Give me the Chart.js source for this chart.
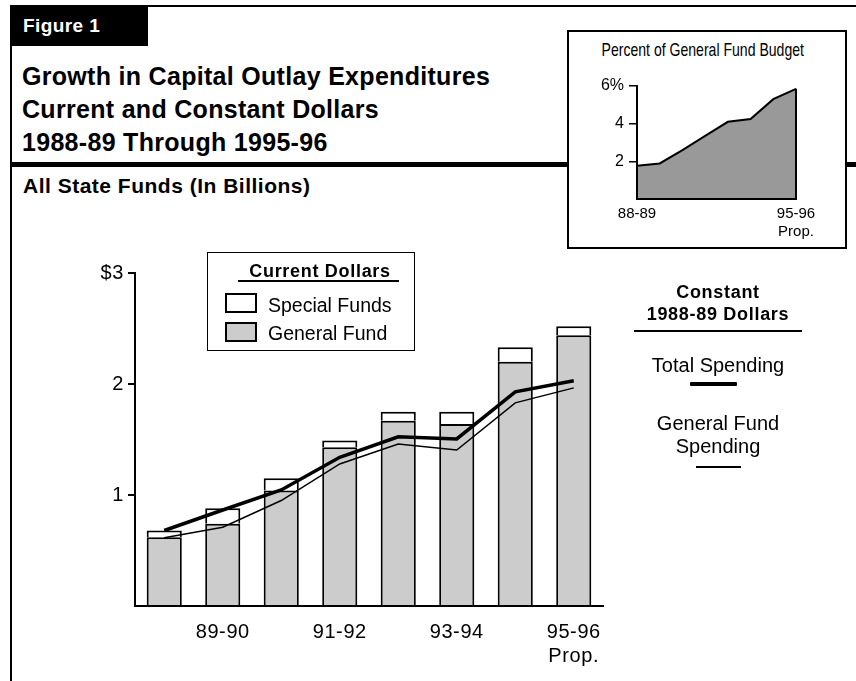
<!DOCTYPE html>
<html>
<head>
<meta charset="utf-8">
<title>Growth in Capital Outlay Expenditures</title>
<script src="https://cdn.jsdelivr.net/npm/chart.js@4.4.0/dist/chart.umd.min.js"></script>
<style>
  body { margin: 0; background: #fff; color: #000; font-family: "Liberation Sans", Arial, sans-serif; }
  #page { position: relative; width: 856px; height: 681px; overflow: hidden; background: #fff; }
  .abs { position: absolute; }
  .rule { position: absolute; background: #000; }
  #figTag { left: 10px; top: 6px; width: 138px; height: 40px; background: #000; color: #fff;
            font-weight: bold; font-size: 19px; line-height: 40px; padding-left: 13px; box-sizing: border-box; letter-spacing: 0.4px; }
  #title { left: 22px; top: 60px; font-weight: bold; font-size: 25px; line-height: 33px; letter-spacing: 0.3px; white-space: nowrap; }
  #subtitle { left: 23px; top: 172px; font-weight: bold; font-size: 21px; line-height: 28px; letter-spacing: 0.5px; white-space: nowrap; }
  #insetBox { left: 567px; top: 30px; width: 276px; height: 215px; border: 2px solid #000; background: #fff; }
  #insetTitle { left: 568px; top: 38px; width: 258px; text-align: center; font-size: 19px; line-height: 24px;
                transform: scaleX(0.74); transform-origin: 129px 0; white-space: nowrap; }
  #legendBox { left: 207px; top: 252px; width: 206px; height: 97px; border: 1.5px solid #000; background: #fff; }
  .legHead { font-weight: bold; font-size: 18px; letter-spacing: 0.7px; text-align: center; white-space: nowrap; }
  .legItem { font-size: 19.5px; line-height: 24px; white-space: nowrap; }
  .swatch { position: absolute; width: 28px; height: 16px; border: 2px solid #000; }
  .constText { font-size: 20px; line-height: 23px; text-align: center; white-space: nowrap; width: 200px; }
  canvas { position: absolute; }
</style>
</head>
<body>
<div id="page">
  <div class="rule" style="left:10px; top:5px; width:846px; height:2px;"></div>
  <div class="rule" style="left:10px; top:6px; width:2px; height:675px;"></div>
  <div class="rule" style="left:10px; top:162px; width:846px; height:5px;"></div>
  <div id="figTag" class="abs">Figure 1</div>
  <div id="title" class="abs">Growth in Capital Outlay Expenditures<br>Current and Constant Dollars<br>1988-89 Through 1995-96</div>
  <div id="subtitle" class="abs">All State Funds (In Billions)</div>

  <div id="insetBox" class="abs"></div>
  <div id="insetTitle" class="abs">Percent of General Fund Budget</div>
  <canvas id="shareChart" width="278" height="217" style="left:568px; top:31px;"></canvas>

  <canvas id="spendChart" width="560" height="441" style="left:60px; top:240px;"></canvas>

  <div id="legendBox" class="abs"></div>
  <div class="abs legHead" style="left:208px; top:259px; width:224px; line-height:24px;">Current Dollars</div>
  <div class="rule" style="left:238px; top:280px; width:161px; height:2px;"></div>
  <div class="swatch" style="left:225px; top:293px; background:#fff;"></div>
  <div class="swatch" style="left:225px; top:322px; background:#ccc;"></div>
  <div class="abs legItem" style="left:268px; top:293px;">Special Funds</div>
  <div class="abs legItem" style="left:268px; top:321px;">General Fund</div>

  <div class="abs legHead" style="left:618px; top:281px; width:200px; line-height:22px;">Constant<br>1988-89 Dollars</div>
  <div class="rule" style="left:634px; top:330px; width:168px; height:2px;"></div>
  <div class="abs constText" style="left:618px; top:354px;">Total Spending</div>
  <div class="rule" style="left:690px; top:382px; width:47px; height:4px; border-radius:1px;"></div>
  <div class="abs constText" style="left:618px; top:412px;">General Fund<br>Spending</div>
  <div class="rule" style="left:696px; top:466px; width:45px; height:2px;"></div>
</div>

<script>
// fiscal years along the bottom of both charts
const years = ['88-89', '89-90', '90-91', '91-92', '92-93', '93-94', '94-95', '95-96'];
const yearTicks = ['', '89-90', '', '91-92', '', '93-94', '', ['95-96', 'Prop.']];

// current dollars, billions
const generalFund = [0.62, 0.74, 1.04, 1.43, 1.67, 1.64, 2.20, 2.44];
const specialFunds = [0.06, 0.14, 0.11, 0.06, 0.08, 0.11, 0.13, 0.08];

// constant 1988-89 dollars, billions
const totalConstant = [0.68, 0.865, 1.045, 1.34, 1.525, 1.505, 1.93, 2.03];
const generalConstant = [0.615, 0.71, 0.95, 1.28, 1.46, 1.405, 1.83, 1.965];

// capital outlay as percent of general fund budget
const budgetShare = [1.77, 1.89, 2.6, 3.35, 4.1, 4.25, 5.3, 5.85];
const shareTicks = ['88-89', '', '', '', '', '', '', ['95-96', 'Prop.']];

Chart.defaults.font.family = '"Liberation Sans", Arial, sans-serif';
Chart.defaults.color = '#000';

const hideZero = (c) => c.tick && c.tick.value === 0 ? 'rgba(0,0,0,0)' : '#000';

// slightly wider tracking on the tick labels
const tracking = {
    id: 'tracking',
    beforeDraw(chart, args, opts) {
        chart.ctx.letterSpacing = opts.spacing || '0px';
    }
};

new Chart(document.getElementById('spendChart'), {
    type: 'bar',
    data: {
        labels: years,
        datasets: [
            {
                type: 'line',
                label: 'Total Spending',
                data: totalConstant,
                borderColor: '#000',
                borderWidth: 3.5,
                pointRadius: 0,
                fill: false
            },
            {
                type: 'line',
                label: 'General Fund Spending',
                data: generalConstant,
                borderColor: '#000',
                borderWidth: 1.5,
                pointRadius: 0,
                fill: false
            },
            {
                label: 'General Fund',
                data: generalFund,
                stack: 'current',
                backgroundColor: '#cccccc',
                borderColor: '#000',
                borderWidth: 2
            },
            {
                label: 'Special Funds',
                data: specialFunds,
                stack: 'current',
                backgroundColor: '#ffffff',
                borderColor: '#000',
                borderWidth: 2
            }
        ]
    },
    options: {
        responsive: false,
        animation: false,
        barPercentage: 0.6,
        categoryPercentage: 1.0,
        layout: { padding: { top: 33, right: 17, left: 0, bottom: 0 } },
        plugins: {
            legend: { display: false },
            tooltip: { enabled: false },
            tracking: { spacing: '0.6px' }
        },
        scales: {
            x: {
                afterFit(scale) { scale.height = 75; },
                grid: { display: true, drawOnChartArea: false, drawTicks: false },
                border: { display: true, color: '#000', width: 2, z: 1 },
                ticks: {
                    autoSkip: false,
                    maxRotation: 0,
                    padding: 14,
                    font: { size: 20 },
                    callback: (v, i) => yearTicks[i]
                }
            },
            y: {
                min: 0,
                max: 3,
                afterFit(scale) { scale.width = 75; },
                grid: { drawOnChartArea: false, tickLength: 7, lineWidth: 2, color: hideZero },
                border: { display: true, color: '#000', width: 2, z: 1 },
                ticks: {
                    stepSize: 1,
                    padding: 4,
                    font: { size: 20 },
                    callback: (v) => v === 0 ? '' : (v === 3 ? '$3' : v)
                }
            }
        }
    },
    plugins: [tracking]
});

// closes the shaded area on its right side
const areaEdge = {
    id: 'areaEdge',
    afterDatasetsDraw(chart) {
        const pts = chart.getDatasetMeta(0).data;
        const last = pts[pts.length - 1];
        const base = chart.scales.y.getPixelForValue(0);
        const ctx = chart.ctx;
        ctx.save();
        ctx.strokeStyle = '#000';
        ctx.lineWidth = 2;
        ctx.beginPath();
        ctx.moveTo(last.x, last.y);
        ctx.lineTo(last.x, base);
        ctx.stroke();
        ctx.restore();
    }
};

new Chart(document.getElementById('shareChart'), {
    type: 'line',
    data: {
        labels: years,
        datasets: [{
            label: 'Percent of General Fund Budget',
            data: budgetShare,
            fill: 'origin',
            backgroundColor: '#999999',
            borderColor: '#000',
            borderWidth: 2,
            pointRadius: 0
        }]
    },
    options: {
        responsive: false,
        animation: false,
        layout: { padding: { top: 55, right: 50, left: 0, bottom: 0 } },
        plugins: {
            legend: { display: false },
            tooltip: { enabled: false }
        },
        scales: {
            x: {
                offset: false,
                afterFit(scale) { scale.height = 49; },
                grid: { display: true, drawOnChartArea: false, drawTicks: false },
                border: { display: true, color: '#000', width: 2, z: 1 },
                ticks: {
                    autoSkip: false,
                    maxRotation: 0,
                    padding: 6,
                    font: { family: '"Liberation Sans Narrow", "Liberation Sans", sans-serif', size: 15 },
                    callback: (v, i) => shareTicks[i]
                }
            },
            y: {
                min: 0,
                max: 6,
                afterFit(scale) { scale.width = 69; },
                grid: { drawOnChartArea: false, tickLength: 8, lineWidth: 1.5, color: hideZero },
                border: { display: true, color: '#000', width: 2, z: 1 },
                ticks: {
                    stepSize: 2,
                    padding: 5,
                    font: { size: 16 },
                    callback: (v) => v === 0 ? '' : (v === 6 ? '6%' : v)
                }
            }
        }
    },
    plugins: [areaEdge]
});
</script>
</body>
</html>
